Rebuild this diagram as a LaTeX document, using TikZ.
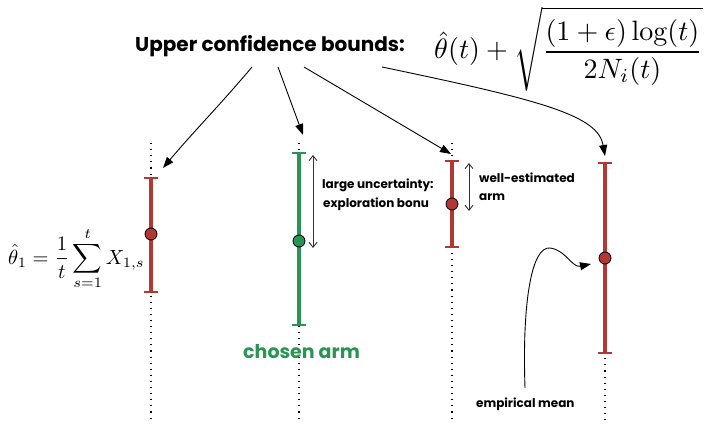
\documentclass[tikz,border=0pt]{standalone}
\usepackage{fontspec}
\newfontfamily\labfont{Poppins}
\usetikzlibrary{arrows.meta}
\definecolor{armred}{RGB}{178,56,52}
\definecolor{armgreen}{RGB}{42,148,84}
\tikzset{
  guide/.style={line width=1.1pt, dash pattern=on 1.1pt off 5pt},
  bar/.style={line width=3.5pt},
  capline/.style={line width=2.8pt},
  meanpt/.style={circle, draw=black, line width=0.8pt, minimum size=12pt, inner sep=0pt},
  ptr/.style={-{Triangle[length=11pt,width=8pt]}, line width=0.9pt},
  spanarrow/.style={{Straight Barb[length=5pt,width=8pt]}-{Straight Barb[length=5pt,width=8pt]}, line width=0.9pt, draw=black!80},
  lab/.style={font=\labfont\bfseries\fontsize{12}{19}\selectfont, align=left, inner sep=0pt},
}
\begin{document}
\begin{tikzpicture}[x=1pt,y=-1pt]
\useasboundingbox (0,0) rectangle (706,425);

% title and formula
\node[anchor=base west, inner sep=0pt, font=\labfont\bfseries\fontsize{20}{24}\selectfont] (ucb) at (135,52) {Upper confidence bounds:};
\node[anchor=base west, inner sep=0pt] (ucbf) at (434,59) {\scalebox{2.8}{$\displaystyle \hat\theta(t)+\sqrt{\frac{(1+\epsilon)\log(t)}{2N_i(t)}}$}};

% left formula
\node[anchor=base west, inner sep=0pt] (mean1) at (8,264) {\scalebox{2.05}{$\displaystyle \hat\theta_1=\frac{1}{t}\sum_{s=1}^{t}X_{1,s}$}};

% guides
\draw[guide] (151,143) -- (151,420);
\draw[guide] (299,143) -- (299,420);
\draw[guide] (452,143) -- (452,420);
\draw[guide] (605,163) -- (605,420);

% arm 1
\draw[bar, armred] (151,178) -- (151,292);
\draw[capline, armred] (144,178) -- (158,178);
\draw[capline, armred] (144,292) -- (158,292);
\node[meanpt, fill=armred] (m1) at (151,234) {};

% arm 2
\draw[bar, armgreen] (299,153) -- (299,325);
\draw[capline, armgreen] (292,153) -- (306,153);
\draw[capline, armgreen] (292,325) -- (306,325);
\node[meanpt, fill=armgreen] (m2) at (299,241) {};

% arm 3
\draw[bar, armred] (452,161) -- (452,247);
\draw[capline, armred] (445,161) -- (459,161);
\draw[capline, armred] (445,247) -- (459,247);
\node[meanpt, fill=armred] (m3) at (452,204) {};

% arm 4
\draw[bar, armred] (605,163) -- (605,353);
\draw[capline, armred] (598,163) -- (612,163);
\draw[capline, armred] (598,353) -- (612,353);
\node[meanpt, fill=armred] (m4) at (605,258) {};

% span arrows
\coordinate (s2a) at (313,155);
\coordinate (s2b) at (313,248);
\draw[spanarrow] (s2a) -- (s2b);
\coordinate (s3a) at (469,163);
\coordinate (s3b) at (469,211);
\draw[spanarrow] (s3a) -- (s3b);

% labels
\node[lab, anchor=base west] (lu) at (322,188) {large uncertainty:};
\node[lab, anchor=base west] (eb) at (323,207) {exploration bonu};
\node[lab, anchor=base west] (we) at (479,182) {well-estimated};
\node[lab, anchor=base west] (wa) at (479,200) {arm};
\node[anchor=base west, inner sep=0pt, text=armgreen, font=\labfont\bfseries\fontsize{19}{22}\selectfont] (chosen) at (243,358) {chosen arm};
\node[lab, anchor=base west] (emp) at (476,407) {empirical mean};

% pointers from title
\coordinate (p1) at (252,67);
\coordinate (p2) at (278,67);
\coordinate (p3) at (304,67);
\coordinate (p4) at (382,67);
\coordinate (t1) at (163,168);
\coordinate (t2) at (303,135);
\coordinate (t3) at (451,154);
\coordinate (t4) at (605,156);
\draw[ptr] (p1) .. controls (220,105) and (195,130) .. (t1);
\draw[ptr] (p2) -- (t2);
\draw[ptr] (p3) -- (t3);
\draw[ptr] (p4) .. controls (540,100) and (598,115) .. (t4);

% empirical mean pointer
\coordinate (e0) at (525,388);
\coordinate (e1) at (591,264);
\draw[ptr] (e0) .. controls (522,300) and (532,246) .. (550,248) .. controls (566,250) and (572,268) .. (e1);
\end{tikzpicture}
\end{document}
